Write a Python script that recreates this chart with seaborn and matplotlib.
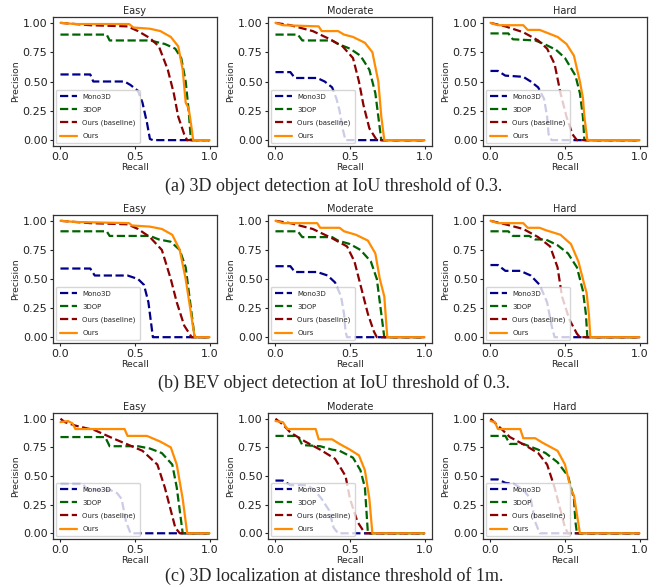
import matplotlib
matplotlib.use("Agg")
import matplotlib.pyplot as plt
import seaborn as sns
import pandas as pd

# recall / precision pairs
# (a) 3D object detection, IoU 0.3
det_easy_mono = [(0, .56), (.2, .56), (.22, .50), (.43, .50), (.47, .47), (.52, .42), (.55, .32), (.58, .15), (.60, .01), (.62, 0), (1, 0)]
det_easy_dop = [(0, .90), (.31, .90), (.33, .85), (.60, .85), (.70, .82), (.77, .78), (.81, .70), (.84, .50), (.86, .25), (.875, 0), (1, 0)]
det_easy_base = [(0, 1.0), (.2, .98), (.45, .97), (.52, .93), (.60, .87), (.66, .80), (.72, .60), (.76, .40), (.79, .20), (.83, .05), (.85, 0), (1, 0)]
det_easy_ours = [(0, 1.0), (.1, .99), (.46, .99), (.49, .96), (.60, .95), (.67, .93), (.74, .88), (.79, .80), (.82, .60), (.84, .32), (.86, .27), (.88, .10), (.89, 0), (1, 0)]

det_mod_mono = [(0, .58), (.1, .58), (.13, .53), (.28, .53), (.33, .50), (.38, .45), (.41, .35), (.43, .25), (.45, .10), (.47, 0), (1, 0)]
det_mod_dop = [(0, .90), (.15, .90), (.18, .85), (.38, .85), (.42, .82), (.50, .78), (.57, .72), (.63, .60), (.67, .40), (.69, .20), (.71, 0), (1, 0)]
det_mod_base = [(0, 1.0), (.1, .98), (.25, .93), (.35, .87), (.45, .80), (.52, .70), (.56, .50), (.59, .30), (.63, .10), (.68, 0), (1, 0)]
det_mod_ours = [(0, 1.0), (.05, .98), (.29, .97), (.31, .93), (.42, .93), (.46, .90), (.52, .88), (.60, .83), (.65, .75), (.69, .50), (.71, .20), (.73, 0), (1, 0)]

det_hard_mono = [(0, .59), (.05, .59), (.1, .55), (.22, .54), (.27, .50), (.32, .45), (.36, .35), (.38, .20), (.39, .05), (.41, 0), (1, 0)]
det_hard_dop = [(0, .91), (.12, .91), (.15, .86), (.30, .85), (.36, .82), (.44, .77), (.50, .70), (.57, .55), (.60, .40), (.62, .20), (.63, 0), (1, 0)]
det_hard_base = [(0, 1.0), (.1, .97), (.22, .92), (.32, .85), (.38, .78), (.43, .65), (.47, .40), (.51, .20), (.55, .05), (.58, 0), (1, 0)]
det_hard_ours = [(0, 1.0), (.05, .98), (.22, .98), (.25, .94), (.33, .94), (.37, .92), (.45, .88), (.51, .82), (.56, .72), (.60, .50), (.62, .36), (.63, .20), (.65, 0), (1, 0)]

# (b) BEV object detection, IoU 0.3
bev_easy_mono = [(0, .59), (.2, .59), (.23, .53), (.45, .53), (.52, .50), (.56, .45), (.59, .30), (.61, .10), (.62, 0), (1, 0)]
bev_easy_dop = [(0, .91), (.31, .91), (.33, .87), (.60, .87), (.66, .84), (.74, .82), (.80, .75), (.84, .60), (.86, .40), (.88, .20), (.90, 0), (1, 0)]
bev_easy_base = [(0, 1.0), (.2, .98), (.45, .97), (.52, .93), (.60, .86), (.68, .75), (.74, .50), (.78, .30), (.83, .10), (.88, 0), (1, 0)]
bev_easy_ours = [(0, 1.0), (.1, .99), (.46, .98), (.48, .96), (.60, .95), (.68, .93), (.75, .88), (.80, .75), (.84, .50), (.87, .25), (.90, 0), (1, 0)]

bev_mod_mono = [(0, .61), (.1, .61), (.13, .56), (.28, .56), (.35, .53), (.40, .47), (.44, .35), (.46, .20), (.47, .05), (.48, 0), (1, 0)]
bev_mod_dop = [(0, .91), (.15, .91), (.18, .86), (.38, .86), (.42, .83), (.50, .80), (.57, .75), (.64, .65), (.68, .50), (.71, .20), (.73, 0), (1, 0)]
bev_mod_base = [(0, 1.0), (.1, .98), (.25, .93), (.38, .85), (.48, .78), (.53, .65), (.58, .40), (.62, .20), (.66, .05), (.68, 0), (1, 0)]
bev_mod_ours = [(0, 1.0), (.05, .98), (.28, .98), (.30, .94), (.43, .94), (.46, .91), (.54, .88), (.62, .83), (.67, .72), (.70, .50), (.73, .35), (.75, 0), (1, 0)]

bev_hard_mono = [(0, .62), (.05, .62), (.1, .57), (.2, .57), (.27, .53), (.33, .45), (.38, .30), (.41, .10), (.43, 0), (1, 0)]
bev_hard_dop = [(0, .91), (.12, .91), (.15, .87), (.26, .87), (.30, .84), (.37, .84), (.45, .79), (.52, .72), (.58, .60), (.62, .40), (.64, .20), (.65, 0), (1, 0)]
bev_hard_base = [(0, 1.0), (.1, .97), (.22, .93), (.32, .86), (.40, .78), (.45, .60), (.48, .35), (.53, .15), (.58, .03), (.60, 0), (1, 0)]
bev_hard_ours = [(0, 1.0), (.05, .98), (.22, .98), (.25, .94), (.33, .94), (.37, .92), (.47, .88), (.54, .80), (.59, .65), (.63, .45), (.645, .38), (.66, .20), (.67, 0), (1, 0)]

# (c) 3D localization, distance 1m
loc_easy_mono = [(0, .43), (.15, .43), (.18, .38), (.33, .38), (.38, .35), (.41, .30), (.44, .10), (.47, 0), (1, 0)]
loc_easy_dop = [(0, .84), (.30, .84), (.33, .76), (.52, .76), (.60, .74), (.68, .70), (.75, .60), (.78, .40), (.80, .20), (.82, 0), (1, 0)]
loc_easy_base = [(0, 1.0), (.03, .97), (.1, .94), (.23, .90), (.35, .83), (.46, .77), (.55, .72), (.65, .60), (.70, .40), (.74, .20), (.77, .05), (.80, 0), (1, 0)]
loc_easy_ours = [(0, .97), (.05, .98), (.08, .96), (.1, .91), (.43, .91), (.45, .85), (.58, .85), (.67, .80), (.74, .75), (.78, .60), (.82, .30), (.85, 0), (1, 0)]

loc_mod_mono = [(0, .46), (.05, .46), (.1, .42), (.21, .42), (.26, .38), (.31, .30), (.36, .20), (.39, .05), (.42, 0), (1, 0)]
loc_mod_dop = [(0, .85), (.15, .85), (.18, .77), (.30, .76), (.38, .73), (.43, .72), (.52, .66), (.57, .55), (.60, .40), (.61, .20), (.62, 0), (1, 0)]
loc_mod_base = [(0, 1.0), (.05, .95), (.1, .88), (.2, .80), (.3, .73), (.4, .65), (.47, .50), (.50, .30), (.55, .10), (.60, 0), (1, 0)]
loc_mod_ours = [(0, .98), (.05, .97), (.08, .91), (.27, .91), (.29, .82), (.38, .82), (.43, .78), (.50, .73), (.56, .68), (.60, .55), (.63, .30), (.65, 0), (1, 0)]

loc_hard_mono = [(0, .47), (.05, .47), (.1, .44), (.16, .43), (.22, .38), (.27, .30), (.30, .10), (.33, 0), (1, 0)]
loc_hard_dop = [(0, .85), (.1, .85), (.13, .78), (.22, .78), (.32, .73), (.37, .70), (.45, .62), (.52, .50), (.56, .30), (.57, .10), (.58, 0), (1, 0)]
loc_hard_base = [(0, 1.0), (.05, .94), (.13, .84), (.23, .77), (.32, .70), (.38, .60), (.43, .40), (.47, .20), (.50, .05), (.52, 0), (1, 0)]
loc_hard_ours = [(0, .98), (.03, .97), (.05, .91), (.2, .91), (.22, .83), (.3, .83), (.35, .79), (.45, .72), (.50, .60), (.54, .38), (.56, .33), (.60, 0), (1, 0)]

methods = ["Mono3D", "3DOP", "Ours (baseline)", "Ours"]
colors = ["#00008B", "#006400", "#8B0000", "#FF8C00"]
difficulties = ["Easy", "Moderate", "Hard"]
captions = ["(a) 3D object detection at IoU threshold of 0.3.",
            "(b) BEV object detection at IoU threshold of 0.3.",
            "(c) 3D localization at distance threshold of 1m."]

panels = [
    [[det_easy_mono, det_easy_dop, det_easy_base, det_easy_ours],
     [det_mod_mono, det_mod_dop, det_mod_base, det_mod_ours],
     [det_hard_mono, det_hard_dop, det_hard_base, det_hard_ours]],
    [[bev_easy_mono, bev_easy_dop, bev_easy_base, bev_easy_ours],
     [bev_mod_mono, bev_mod_dop, bev_mod_base, bev_mod_ours],
     [bev_hard_mono, bev_hard_dop, bev_hard_base, bev_hard_ours]],
    [[loc_easy_mono, loc_easy_dop, loc_easy_base, loc_easy_ours],
     [loc_mod_mono, loc_mod_dop, loc_mod_base, loc_mod_ours],
     [loc_hard_mono, loc_hard_dop, loc_hard_base, loc_hard_ours]],
]

sns.set_style("ticks")
plt.rcParams["font.family"] = ["DejaVu Sans"]

W, H = 661, 587
fig = plt.figure(figsize=(W / 100, H / 100), dpi=100)

col_left = [53, 268, 483]
row_top = [17, 215, 413]
row_h = [129, 128, 126]
cap_y = [186, 383, 576]

for i in range(3):
    for j in range(3):
        ax = fig.add_axes([col_left[j] / W, 1 - (row_top[i] + row_h[i]) / H, 164 / W, row_h[i] / H])
        for k, name in enumerate(methods):
            df = pd.DataFrame(panels[i][j][k], columns=["Recall", "Precision"])
            sns.lineplot(data=df, x="Recall", y="Precision", ax=ax, sort=False, estimator=None,
                         color=colors[k], label=name, linewidth=1.6)
            ax.lines[-1].set_linestyle("-" if name == "Ours" else "--")
        ax.set_xlim(-0.05, 1.05)
        ax.set_ylim(-0.05, 1.05)
        ax.set_xticks([0, 0.5, 1.0])
        ax.set_xticklabels(["0.0", "0.5", "1.0"])
        ax.set_yticks([0, 0.25, 0.5, 0.75, 1.0])
        ax.set_yticklabels(["0.00", "0.25", "0.50", "0.75", "1.00"])
        ax.tick_params(labelsize=8, length=2.5, width=0.8, pad=1.5, colors="#222222")
        ax.set_xlabel("Recall", fontsize=6.7, labelpad=1)
        ax.set_ylabel("Precision", fontsize=6.7, labelpad=2)
        ax.set_title(difficulties[j], fontsize=7, pad=2.5)
        for s in ax.spines.values():
            s.set_linewidth(0.9)
            s.set_color("#333333")
        ax.legend(loc="lower left", fontsize=5.0, handlelength=2.4, labelspacing=1.0,
                  borderpad=0.6, borderaxespad=0.4, framealpha=0.8, fancybox=True)
    fig.text(334 / W, 1 - cap_y[i] / H, captions[i], ha="center", va="center",
             fontsize=13, family=["Liberation Serif"])

fig.savefig("out.png", dpi=100)
